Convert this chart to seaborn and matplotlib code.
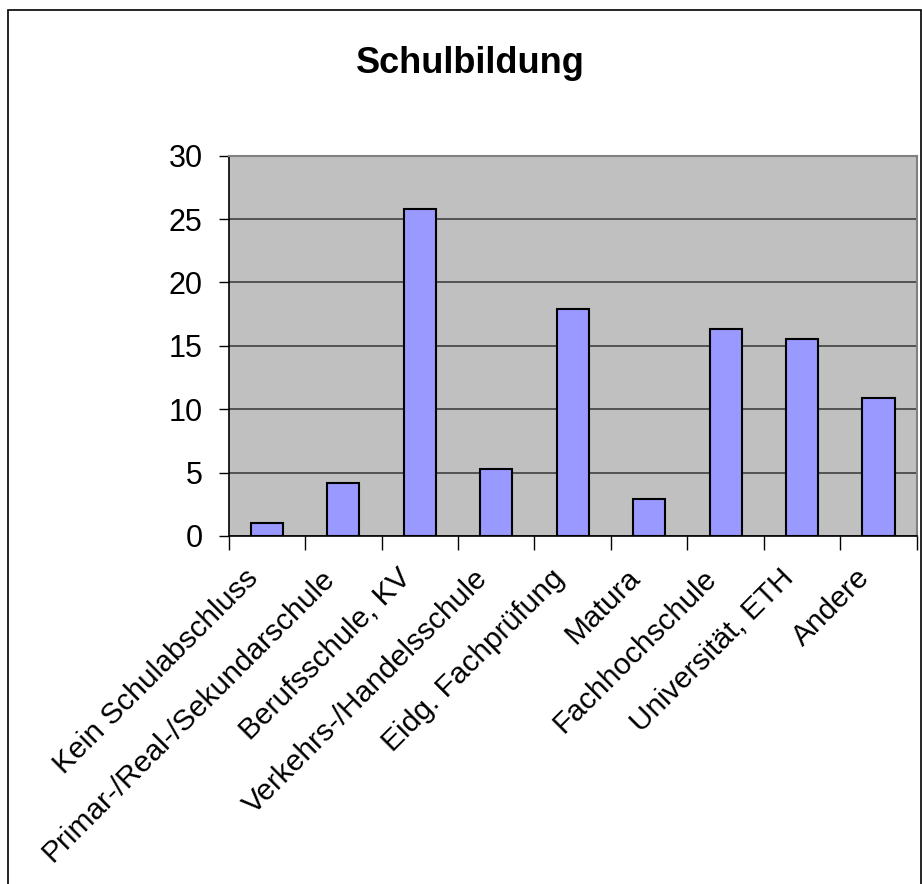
import numpy as np
import pandas as pd
import seaborn as sns
import matplotlib
matplotlib.use('Agg')
from matplotlib import pyplot as plt
from matplotlib.patches import Rectangle
from matplotlib.transforms import ScaledTranslation

# Daten
kategorien = ['Kein Schulabschluss', 'Primar-/Real-/Sekundarschule', 'Berufsschule, KV',
              'Verkehrs-/Handelsschule', 'Eidg. Fachprüfung', 'Matura',
              'Fachhochschule', 'Universität, ETH', 'Andere']
werte = [1.0, 4.15, 25.8, 5.3, 17.9, 2.95, 16.3, 15.55, 10.85]
y_ticks = [0, 5, 10, 15, 20, 25, 30]

df = pd.DataFrame({'kategorie': kategorien, 'wert': werte})

sns.set_style('white')
plt.rcParams['font.family'] = ['Liberation Sans', 'DejaVu Sans']
plt.rcParams['text.color'] = 'black'
plt.rcParams['xtick.color'] = 'black'
plt.rcParams['ytick.color'] = 'black'

fig = plt.figure(figsize=(9.22, 8.84), dpi=100)
ax = fig.add_axes([0.248, 0.3937, 0.7463, 0.4302])

sns.barplot(x='kategorie', y='wert', data=df, color='#9999FF', saturation=1,
            edgecolor='black', linewidth=1.5, width=0.42, ax=ax, zorder=3)

ax.set_facecolor('#C0C0C0')
ax.set_ylim(0, 30)
ax.set_xlim(-0.5, len(kategorien) - 0.5)
ax.set_yticks(y_ticks)
ax.yaxis.grid(True, color='#404040', linewidth=1.2, zorder=0)
ax.set_axisbelow(True)
ax.set_xlabel('')
ax.set_ylabel('')

# x-Achse: Striche zwischen den Kategorien, Beschriftung in der Mitte
ax.set_xticks(np.arange(len(kategorien)))
ax.set_xticklabels(kategorien, rotation=45, ha='right', rotation_mode='anchor', fontsize=21.5)
ax.set_xticks(np.arange(-0.5, len(kategorien)), minor=True)
ax.tick_params(axis='x', which='major', length=0, pad=20, labelcolor='black')
ax.tick_params(axis='x', which='minor', length=10, width=1, color='black', direction='out', bottom=True)
ax.tick_params(axis='y', length=7.2, width=1, color='black', direction='out', left=True,
               labelsize=22, pad=11.5, labelcolor='black')

# Beschriftung etwas nach links schieben
verschiebung = ScaledTranslation(-0.23, 0, fig.dpi_scale_trans)
for lab in ax.get_xticklabels():
    lab.set_transform(lab.get_transform() + verschiebung)

for s in ['left', 'bottom']:
    ax.spines[s].set_color('black')
    ax.spines[s].set_linewidth(1.2)
for s in ['top', 'right']:
    ax.spines[s].set_color('#808080')
    ax.spines[s].set_linewidth(1.5)

fig.text(0.51, 0.928, 'Schulbildung', ha='center', va='center', fontsize=26,
         fontweight='bold', color='black')

# Rahmen ums Diagramm
fig.patches.append(Rectangle((8 / 922, -0.01), 913 / 922, 1 - 10 / 884 + 0.01,
                             transform=fig.transFigure, fill=False,
                             edgecolor='black', linewidth=1.2))

fig.savefig('out.png', dpi=100)
